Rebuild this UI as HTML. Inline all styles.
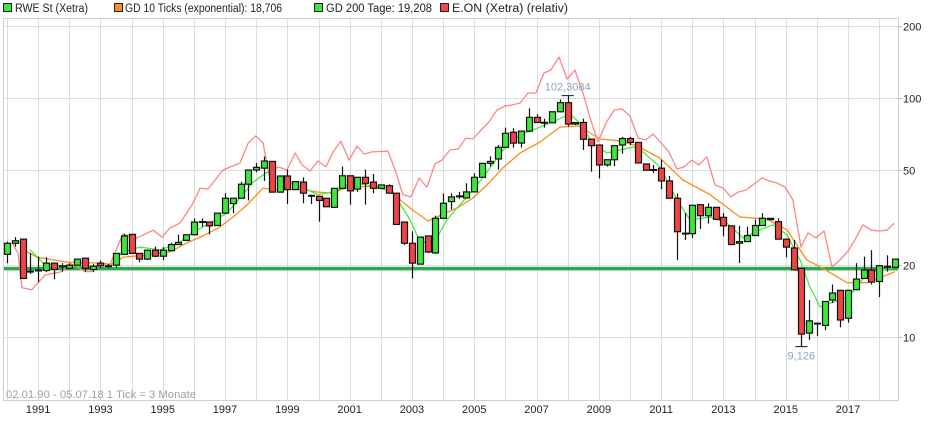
<!DOCTYPE html>
<html><head><meta charset="utf-8"><style>
html,body{margin:0;padding:0;background:#fff;}
svg{display:block;font-family:"Liberation Sans",Arial,sans-serif;}
</style></head><body>
<svg id="chart" width="940" height="435" viewBox="0 0 940 435" xmlns="http://www.w3.org/2000/svg">
<g>
 <g><rect x="3.5" y="3.5" width="8" height="8" fill="#3ce63c" stroke="#222"/><text x="15" y="12" font-size="11.5" fill="#222" textLength="73" lengthAdjust="spacingAndGlyphs">RWE St (Xetra)</text></g>
 <g><rect x="114.5" y="3.5" width="8" height="8" fill="#ff8c1a" stroke="#222"/><text x="125" y="12" font-size="11.5" fill="#222" textLength="157" lengthAdjust="spacingAndGlyphs">GD 10 Ticks (exponential): 18,706</text></g>
 <g><rect x="314.5" y="3.5" width="8" height="8" fill="#3ce63c" stroke="#222"/><text x="326" y="12" font-size="11.5" fill="#222" textLength="106" lengthAdjust="spacingAndGlyphs">GD 200 Tage: 19,208</text></g>
 <g><rect x="440.5" y="3.5" width="8" height="8" fill="#f04848" stroke="#222"/><text x="452" y="12" font-size="11.5" fill="#222" textLength="116" lengthAdjust="spacingAndGlyphs">E.ON (Xetra) (relativ)</text></g>
</g>
<g id="grid"></g>
<rect x="3.5" y="18.5" width="895" height="382" fill="none" stroke="#cfcfcf"/>
<g id="yaxis"></g>
<g id="xaxis"></g>
<g id="series"></g>
<text x="6" y="398" font-size="11" fill="#a0a0a0" textLength="190" lengthAdjust="spacingAndGlyphs">02.01.90 - 05.07.18   1 Tick = 3 Monate</text>
</svg>
<script>
const yTicks=[200,100,50,20,10];
const yearLabels=[1991,1993,1995,1997,1999,2001,2003,2005,2007,2009,2011,2013,2015,2017];
const candleOpen=[22.2,24.7,25.7,18.8,19.0,19.0,20.4,19.8,19.4,20.0,21.4,19.2,20.4,19.8,20.0,22.2,26.9,22.4,21.2,23.1,21.8,23.0,24.4,25.4,26.8,30.3,30.3,29.3,33.0,36.2,38.1,43.6,50.0,50.9,54.3,40.4,47.2,41.4,44.5,39.0,38.8,38.1,34.9,41.9,47.3,41.6,46.6,44.5,41.9,43.0,40.0,30.3,24.7,20.2,26.5,22.5,31.4,36.9,38.8,38.2,40.5,46.6,53.3,55.6,62.2,71.9,64.8,72.7,83.0,78.8,78.8,87.6,95.6,77.8,79.0,67.3,63.6,52.5,55.2,63.6,67.7,65.2,53.0,50.0,50.9,45.0,38.1,27.1,27.1,35.8,32.2,34.9,31.7,29.2,24.7,25.1,26.6,29.3,31.4,30.4,25.7,23.6,19.4,10.4,11.4,11.2,14.3,15.7,12.0,15.8,17.6,19.1,17.1,19.7,19.6];
const candleHigh=[25.1,26.2,25.7,22.5,21.7,21.6,20.4,20.4,20.3,21.2,21.4,20.2,20.9,20.2,22.4,27.0,26.9,22.4,23.1,23.9,23.8,24.8,26.8,26.8,31.4,31.4,30.3,33.0,40.0,38.1,44.7,50.0,53.5,57.0,54.3,47.2,50.2,44.7,46.6,39.5,38.8,38.1,41.9,51.7,47.3,46.6,50.2,48.1,43.3,43.6,40.0,30.3,27.7,26.2,26.5,32.2,39.9,39.9,40.5,44.0,48.5,53.3,57.0,63.6,75.2,74.7,72.7,90.5,85.5,82.0,87.6,98.6,102.3,78.9,82.0,67.3,63.6,55.2,63.2,68.7,68.7,65.2,53.0,52.5,55.2,47.2,39.9,33.0,35.6,35.8,36.3,34.9,33.0,29.2,29.2,29.0,31.0,33.0,31.4,31.4,25.7,25.5,19.4,14.3,11.4,14.1,16.6,15.7,15.7,20.4,21.7,23.1,19.9,22.0,21.2];
const candleLow=[20.4,23.9,17.5,18.4,17.0,18.7,17.5,18.8,19.4,20.0,18.8,18.7,19.5,19.5,19.5,22.2,22.4,20.6,21.0,21.6,21.0,23.0,24.4,25.2,26.8,29.0,26.9,29.3,33.0,33.0,38.0,37.3,49.0,45.0,40.4,40.4,36.0,41.4,36.3,36.0,30.4,35.1,34.9,41.9,35.8,40.5,35.8,40.0,41.9,40.0,29.6,24.3,17.6,20.2,22.5,22.3,31.4,34.2,37.9,38.0,40.5,46.6,51.7,50.2,62.0,62.0,62.0,72.0,79.0,75.2,78.8,87.0,76.0,77.0,60.6,49.2,46.1,51.7,51.9,58.5,63.6,53.5,49.9,48.5,41.6,38.1,21.0,25.5,26.0,28.3,29.9,31.0,26.4,24.3,20.4,25.1,26.6,29.3,31.0,25.7,21.6,19.1,9.13,9.75,10.1,10.7,13.9,11.0,11.5,15.8,17.6,16.6,14.7,18.8,19.6];
const candleClose=[24.7,25.3,17.6,18.8,19.0,20.4,19.2,19.8,20.0,21.2,19.4,19.8,19.9,19.8,22.4,26.5,22.4,21.2,23.1,21.8,23.1,24.4,24.9,26.8,30.3,30.3,29.2,33.0,38.1,38.1,43.6,50.0,51.3,54.5,40.4,47.2,41.4,44.7,40.0,39.0,37.3,35.1,41.9,47.3,40.9,46.6,44.0,41.9,43.3,40.0,29.6,24.7,20.4,26.2,22.7,31.4,36.3,38.6,38.8,40.5,46.6,53.3,54.3,62.2,71.2,64.8,72.7,83.0,79.0,78.8,87.6,95.6,77.8,78.9,67.2,63.2,52.5,55.2,63.2,67.7,65.2,53.5,49.9,50.0,45.0,38.1,27.6,27.1,35.6,32.2,34.9,31.1,29.2,24.4,25.1,26.6,29.3,31.4,31.0,25.7,23.8,19.1,10.3,11.7,11.4,14.1,15.3,11.8,15.7,17.5,19.1,17.0,19.9,19.7,21.2];
const gd10Dates=[1990.58,1990.96,1991.93,1992.99,1993.40,1993.72,1994.37,1995.23,1995.78,1996.29,1996.84,1997.26,1997.70,1998.22,1998.67,1999.41,1999.98,2000.47,2001.01,2002.20,2002.62,2003.03,2003.52,2004.00,2004.45,2004.96,2005.41,2005.92,2006.47,2007.11,2007.75,2008.39,2008.72,2009.04,2009.68,2010.22,2010.96,2011.70,2012.57,2013.53,2014.40,2015.04,2015.68,2016.10,2016.97,2017.61,2018.25,2018.51];
const gd10Values=[23.0,21.6,20.6,20.4,20.0,21.6,22.0,22.7,24.8,26.5,28.9,31.8,35.7,42.0,41.2,41.6,40.4,40.0,42.8,42.4,37.5,34.0,30.6,32.7,34.7,38.2,43.3,51.0,58.9,65.5,75.6,76.4,71.4,67.4,66.2,63.0,56.1,45.4,39.4,31.8,31.2,28.1,21.0,19.7,16.9,16.9,18.2,18.8];
const gd200Dates=[1990.74,1991.16,1991.93,1993.31,1993.72,1994.27,1994.91,1995.46,1995.97,1996.42,1997.06,1997.48,1997.90,1998.35,1998.76,1999.41,1999.98,2000.59,2001.01,2001.56,2002.39,2002.94,2003.19,2003.52,2003.80,2004.12,2004.45,2004.96,2005.41,2005.92,2006.47,2007.11,2007.66,2008.07,2008.39,2008.81,2009.26,2009.68,2010.10,2010.42,2010.96,2011.51,2011.93,2012.57,2013.11,2013.63,2014.17,2014.59,2015.04,2015.46,2015.78,2016.10,2016.52,2017.00,2017.29,2017.61,2018.03,2018.44];
const gd200Values=[23.2,20.4,19.7,19.9,22.7,23.8,23.2,24.5,27.5,29.5,33.0,38.2,44.5,49.0,45.4,42.8,39.4,40.8,44.1,43.3,40.4,30.9,26.2,24.3,26.0,30.9,34.7,41.2,49.0,60.6,70.0,75.6,80.9,85.7,78.6,64.8,58.9,60.6,62.4,59.5,51.5,37.5,30.9,31.8,30.0,26.0,28.1,29.5,26.8,21.0,16.2,13.4,14.0,14.7,16.2,18.6,19.1,19.5];
const eonDates=[1990.16,1990.35,1990.48,1990.80,1991.22,1991.77,1992.02,1992.50,1992.73,1992.99,1993.31,1993.72,1994.17,1994.69,1994.98,1995.23,1995.55,1995.94,1996.20,1996.45,1996.93,1997.48,1997.74,1997.99,1998.22,1998.41,1998.70,1998.99,1999.25,1999.47,1999.73,1999.98,2000.24,2000.47,2000.72,2000.98,2001.24,2001.46,2001.72,2002.23,2002.49,2002.71,2002.97,2003.23,2003.48,2003.74,2003.96,2004.22,2004.48,2004.73,2004.96,2005.22,2005.47,2005.73,2005.99,2006.21,2006.47,2006.73,2006.98,2007.24,2007.46,2007.72,2007.98,2008.23,2008.49,2008.72,2008.97,2009.23,2009.49,2009.74,2010.00,2010.26,2010.51,2010.74,2011.00,2011.25,2011.51,2011.73,2011.99,2012.21,2012.47,2012.73,2012.99,2013.24,2013.47,2013.72,2013.98,2014.24,2014.46,2014.72,2014.98,2015.23,2015.49,2015.71,2015.97,2016.23,2016.48,2016.74,2017.00,2017.22,2017.48,2017.74,2017.99,2018.25,2018.48];
const eonValues=[24.8,22.5,16.1,15.8,18.2,18.8,20.4,18.8,18.8,20.4,20.2,27.0,26.0,28.0,26.2,28.6,30.0,35.7,42.0,41.6,50.0,53.5,64.8,69.4,64.8,47.7,51.5,50.0,58.9,52.5,49.5,54.5,51.5,59.5,66.0,55.0,63.0,58.3,59.5,60.0,48.6,39.4,38.6,46.3,42.4,53.0,55.0,60.6,61.2,68.0,67.4,73.5,79.4,89.1,92.6,93.5,95.3,104.9,104.9,127.2,131,148.4,120,131,104.9,82.5,65.5,78.6,89.1,90.0,84.1,68.0,66.8,70.7,64.8,59.5,50.5,51.5,55.0,52.5,56.7,43.3,42.0,38.6,40.4,41.2,43.7,46.3,45.0,44.1,42.4,37.5,23.8,27.3,26.0,27.8,19.7,21.0,22.9,25.5,29.5,28.0,27.8,28.0,30.0];
const gd200Level=[19.35];
const highLabel=["102,3084"];
const lowLabel=["9,126"];

const NS="http://www.w3.org/2000/svg";
const X0=7, PXY=31.15;
function xDate(d){return X0+(d-1990)*PXY;}
function xIdx(i){return X0+i*PXY/4;}
function yVal(v){return 98-72*Math.log2(v/100);}
function mk(tag,attrs,parent){const e=document.createElementNS(NS,tag);for(const k in attrs)e.setAttribute(k,attrs[k]);parent.appendChild(e);return e;}
const grid=document.getElementById('grid'),ya=document.getElementById('yaxis'),xa=document.getElementById('xaxis'),ser=document.getElementById('series');
for(let yr=1990;yr<=2018;yr++){
 const x=Math.round(xDate(yr))+0.5;
 const l=mk('line',{x1:x,x2:x,y1:19,y2:400,stroke:'#dcdcdc','stroke-width':1},grid);
 
 
}
yTicks.forEach(v=>{
 const y=Math.round(yVal(v))+0.5;
 const l=mk('line',{x1:4,x2:898,y1:y,y2:y,stroke:'#dcdcdc','stroke-width':1},grid);
 
 
 const tk=mk('line',{x1:898,x2:902,y1:y,y2:y,stroke:'#bbb'},ya);
 
 
 const t=mk('text',{x:903,y:y+4,'font-size':11,fill:'#222'},ya);
 t.textContent=v;
 
 
});
yearLabels.forEach(yr=>{
 const x=xDate(yr);
 const t=mk('text',{x:x,y:413,'font-size':11,fill:'#222','text-anchor':'middle'},xa);
 t.textContent=yr;
 
 
});
// horizontal GD200 level line
const lvl=mk('line',{x1:4,x2:898,y1:yVal(gd200Level[0]),y2:yVal(gd200Level[0]),stroke:'#2ea84a','stroke-width':3.5},ser);


function poly(dates,vals,color,w,name){
 const pts=dates.map((d,i)=>xDate(d).toFixed(1)+','+yVal(vals[i]).toFixed(1)).join(' ');
 const p=mk('polyline',{points:pts,fill:'none',stroke:color,'stroke-width':w,'stroke-linejoin':'round'},ser);
 
 
}
poly(eonDates,eonValues,'#ff8585',1.3,'eon-relative-line');
poly(gd10Dates,gd10Values,'#ff8c1a',1.3,'gd10-line');
poly(gd200Dates,gd200Values,'#33ee33',1.2,'gd200-line');
candleOpen.forEach((o,i)=>{
 const c=candleClose[i],h=candleHigh[i],lo=candleLow[i];
 const x=Math.round(xIdx(i))+0.5;
 const g=mk('g',{},ser);
 
 
 mk('line',{x1:x,x2:x,y1:yVal(h),y2:yVal(lo),stroke:'#111','stroke-width':1.2},g);
 if(o===c){
  mk('line',{x1:x-3.5,x2:x+3.5,y1:yVal(o),y2:yVal(o),stroke:'#111','stroke-width':2},g);
 }else{
  const yt=yVal(Math.max(o,c)),yb=yVal(Math.min(o,c));
  mk('rect',{x:x-3,y:yt,width:6,height:Math.max(1,yb-yt),fill:c>o?'#3ce63c':'#f04444',stroke:'#111','stroke-width':1.2},g);
 }
});
let hiI=0,loI=0;
candleHigh.forEach((v,i)=>{if(v>candleHigh[hiI])hiI=i;});
candleLow.forEach((v,i)=>{if(v<candleLow[loI])loI=i;});
const hx=xIdx(hiI);
mk('line',{x1:hx-6,x2:hx+6,y1:yVal(candleHigh[hiI]),y2:yVal(candleHigh[hiI]),stroke:'#111'},ser);
const ht=mk('text',{x:hx,y:yVal(candleHigh[hiI])-5,'font-size':11,fill:'#8fa3bb','text-anchor':'middle'},ser);
ht.textContent=highLabel[0];


const lx=xIdx(loI);
mk('line',{x1:lx-6,x2:lx+6,y1:yVal(candleLow[loI]),y2:yVal(candleLow[loI]),stroke:'#111'},ser);
const lt=mk('text',{x:lx,y:yVal(candleLow[loI])+13,'font-size':11,fill:'#8fa3bb','text-anchor':'middle'},ser);
lt.textContent=lowLabel[0];


</script>
</body></html>
